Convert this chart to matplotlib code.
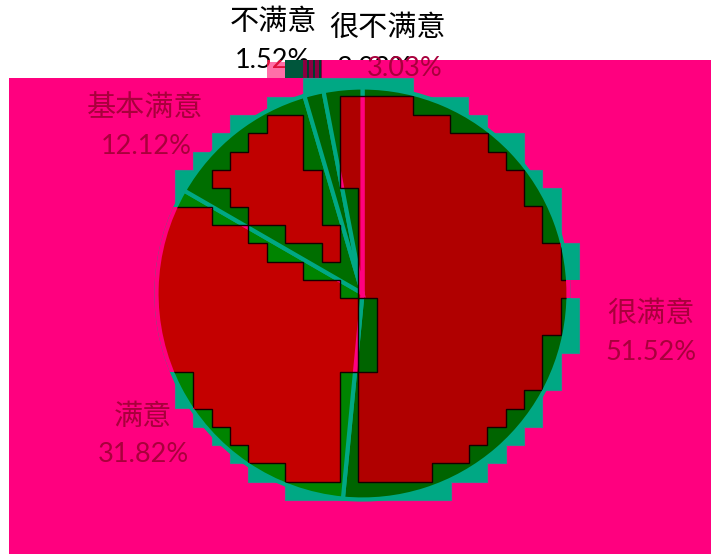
"""Satisfaction pie, including the blocky colour artefacts of the source image."""
import matplotlib
matplotlib.use("Agg")
import matplotlib.pyplot as plt
from matplotlib.patches import Circle, Polygon, Rectangle
from matplotlib.path import Path

CJK = ["Noto Sans CJK SC", "DejaVu Sans"]
LATIN = ["Lato", "DejaVu Sans"]

labels = ["很满意", "满意", "基本满意", "不满意", "很不满意"]
percents = [51.52, 31.82, 12.12, 1.52, 3.03]

PINK = "#FF007F"
TEAL = "#00A884"
TEXT_RED = "#A8003C"
reds = ["#B00000", "#C40000", "#C00000", "#B00000", "#AE0000"]
greens = ["#006400", "#008400", "#006E00", "#006400", "#006400"]

# stair-step outline of the teal block, in image pixels
outer_steps = [(303, 78), (413, 78), (413, 97), (468, 97), (468, 115), (487, 115), (487, 133),
               (524, 133), (524, 170), (542, 170), (542, 188), (561, 188), (561, 243), (579, 243),
               (579, 280), (561, 280), (561, 298), (579, 298), (579, 353), (561, 353), (561, 390),
               (542, 390), (542, 427), (524, 427), (524, 445), (506, 445), (506, 463), (487, 463),
               (487, 482), (451, 482), (451, 500), (285, 500), (285, 482), (248, 482), (248, 463),
               (230, 463), (230, 445), (212, 445), (212, 427), (193, 427), (193, 408), (175, 408),
               (175, 170), (193, 170), (193, 152), (212, 152), (212, 133), (230, 133), (230, 115),
               (267, 115), (267, 97), (303, 97)]
# right and lower holes run out past the circle, where the teal stops
hole_right = [(340, 96), (413, 96), (413, 115), (450, 115), (450, 133), (488, 133), (488, 152),
              (506, 152), (506, 170), (524, 170), (524, 206), (542, 206), (542, 243), (561, 243),
              (561, 280), (590, 280), (590, 298), (561, 298), (561, 335), (542, 335), (542, 390),
              (524, 390), (524, 409), (506, 409), (506, 427), (487, 427), (487, 445), (469, 445),
              (469, 463), (432, 463), (432, 482), (358, 482), (358, 372), (377, 372), (377, 298),
              (358, 298), (358, 188), (340, 188)]
hole_upper = [(267, 115), (303, 115), (303, 170), (322, 170), (322, 225), (340, 225), (340, 262),
              (322, 262), (322, 243), (285, 243), (285, 225), (248, 225), (248, 207), (230, 207),
              (230, 188), (212, 188), (212, 170), (230, 170), (230, 152), (248, 152), (248, 133),
              (267, 133)]
hole_lower = [(140, 207), (212, 207), (212, 225), (248, 225), (248, 243), (267, 243), (267, 262),
              (303, 262), (303, 280), (340, 280), (340, 298), (358, 298), (358, 372), (340, 372),
              (340, 482), (285, 482), (285, 463), (248, 463), (248, 445), (230, 445), (230, 427),
              (212, 427), (212, 409), (193, 409), (193, 372), (140, 372)]
holes = [hole_right, hole_upper, hole_lower]

fig = plt.figure(figsize=(7.11, 5.54), dpi=100, facecolor="white")
ax = fig.add_axes([0, 0, 1, 1])

# black labels sit under the pink sheet, so only their tops show
ax.text(273, 22, labels[3], family=CJK, fontsize=21, ha="center", va="center", zorder=1)
ax.text(387, 28, labels[4], family=CJK, fontsize=21, ha="center", va="center", zorder=1)
ax.text(272, 61, f"{percents[3]:.2f}%", family=LATIN, fontsize=19.5, ha="center", va="center", zorder=1)
ax.text(375, 68, f"{percents[4]:.2f}%", family=LATIN, fontsize=19.5, ha="center", va="center", zorder=1)

ax.add_patch(Rectangle((9, 78), 702, 476, fc=PINK, ec="none", zorder=2))
ax.add_patch(Rectangle((322, 60), 389, 18, fc=PINK, ec="none", zorder=2))

# scrap of the block row above the pink sheet
ax.add_patch(Rectangle((267, 62), 18, 16, fc="#FF6FA8", ec="none", zorder=2))
ax.add_patch(Rectangle((285, 60), 18, 18, fc="#00563C", ec="none", zorder=2))
ax.add_patch(Rectangle((303, 60), 19, 18, fc="#8A0040", ec="none", zorder=2))
for x in (307, 313, 319):
    ax.add_patch(Rectangle((x, 60), 2, 18, fc="#003C30", ec="none", zorder=2))

ax.add_patch(Polygon(outer_steps, fc=TEAL, ec="#2E8C8C", lw=0.8, zorder=3))
for hole in holes:
    ax.add_patch(Polygon(hole, fc=PINK, ec="none", zorder=3.5))

center = (362.5, 293.5)
radius = 206
circle = Circle(center, radius - 2, transform=ax.transData)

# green where the pie lies over teal, red wherever it lies over pink
ax.pie(percents, colors=greens, center=center, radius=radius, startangle=-90,
       wedgeprops=dict(edgecolor=TEAL, linewidth=3.0, zorder=4))
for hole in holes:
    wedges, _ = ax.pie(percents, colors=reds, center=center, radius=radius, startangle=-90,
                       wedgeprops=dict(edgecolor=PINK, linewidth=3.0, zorder=5))
    for wedge in wedges:
        # pie() turns clipping off on its wedges
        wedge.set_clip_on(True)
        wedge.set_clip_path(Path(hole + [hole[0]], closed=True), ax.transData)
    edge = Polygon(hole, fc="none", ec="#140000", lw=1.0, zorder=6)
    ax.add_patch(edge)
    edge.set_clip_path(circle)

ax.text(651, 314, labels[0], family=CJK, fontsize=21, color=TEXT_RED, ha="center", va="center", zorder=7)
ax.text(651, 353, f"{percents[0]:.2f}%", family=LATIN, fontsize=19.5, color=TEXT_RED, ha="center", va="center", zorder=7)
ax.text(143, 417, labels[1], family=CJK, fontsize=21, color=TEXT_RED, ha="center", va="center", zorder=7)
ax.text(143, 455, f"{percents[1]:.2f}%", family=LATIN, fontsize=19.5, color=TEXT_RED, ha="center", va="center", zorder=7)
ax.text(145, 108, labels[2], family=CJK, fontsize=21, color=TEXT_RED, ha="center", va="center", zorder=7)
ax.text(146, 147, f"{percents[2]:.2f}%", family=LATIN, fontsize=19.5, color=TEXT_RED, ha="center", va="center", zorder=7)

# the same percent labels again, showing only on the pink row
ax.text(405, 68, f"{percents[4]:.2f}%", family=LATIN, fontsize=19.5, color=TEXT_RED, ha="center", va="center", zorder=7)
ghost = ax.text(272, 61, f"{percents[3]:.2f}%", family=LATIN, fontsize=19.5, color="#E0103C",
                ha="center", va="center", zorder=2.5)
ghost.set_clip_on(True)
ghost.set_clip_path(Rectangle((267, 60), 18, 18, transform=ax.transData))

ax.set_xlim(0, 711)
ax.set_ylim(554, 0)
ax.axis("off")

fig.savefig("out.png", dpi=100)
